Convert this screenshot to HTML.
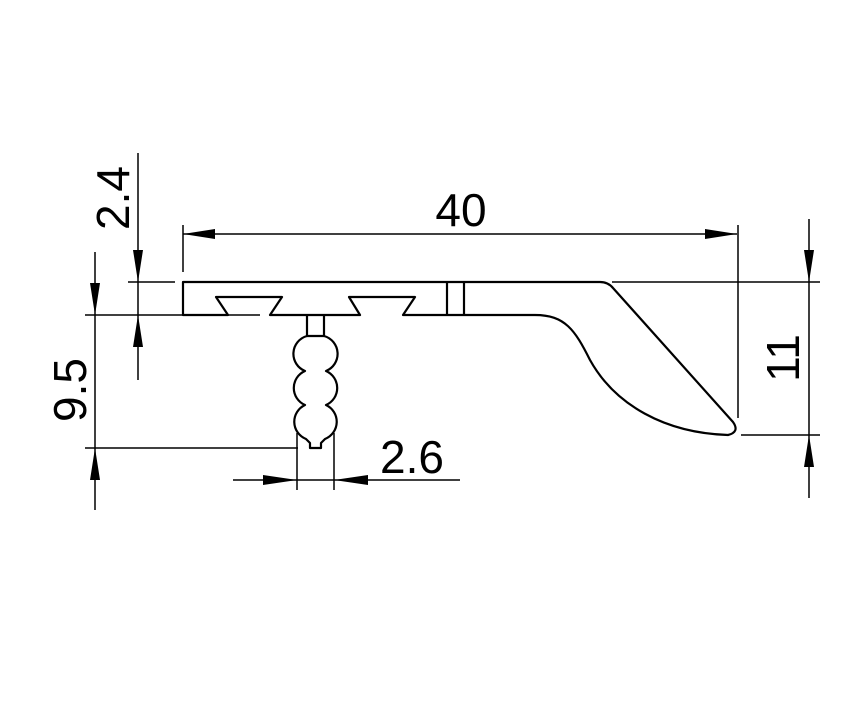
<!DOCTYPE html>
<html><head><meta charset="utf-8"><style>
html,body{margin:0;padding:0;background:#fff;}
svg{display:block;}
text{font-family:"Liberation Sans",sans-serif;font-size:46px;fill:#000;}
</style></head><body>
<svg width="862" height="710" viewBox="0 0 862 710" xmlns="http://www.w3.org/2000/svg">
<g fill="none" stroke="#000" stroke-width="2.2" stroke-linejoin="round">
<path d="M183 315 L183 282 L600 282 Q608 282 613 288 L733 422 Q740 432 728 435 C665 433 615 405 590 360 C575 330 565 315 535 315 L403 315 L415 297 L349 297 L360 315 L270 315 L282 297 L216 297 L228 315 Z"/>
<line x1="447" y1="282" x2="447" y2="315"/>
<line x1="464" y1="282" x2="464" y2="315"/>
<path d="M307 315 L307 336 L324 336 L324 315"/>
<path d="M307 336 A18.5 18.5 0 0 0 305 371 A18.5 18.5 0 0 0 305 405 A18.5 18.5 0 0 0 306 439 L310 443 L310 448 L321 448 L321 443 L325 439 A18.5 18.5 0 0 0 326 405 A18.5 18.5 0 0 0 326 371 A18.5 18.5 0 0 0 324 336"/>
</g>
<g stroke="#000" stroke-width="1.5" fill="none">
<line x1="183" y1="234" x2="737" y2="234"/>
<line x1="183" y1="225" x2="183" y2="272"/>
<line x1="738" y1="225" x2="738" y2="418"/>
<line x1="809" y1="219" x2="809" y2="498"/>
<line x1="612" y1="282" x2="820" y2="282"/>
<line x1="741" y1="435" x2="820" y2="435"/>
<line x1="138" y1="153" x2="138" y2="380"/>
<line x1="128" y1="282" x2="175" y2="282"/>
<line x1="95" y1="252" x2="95" y2="510"/>
<line x1="85" y1="315" x2="260" y2="315"/>
<line x1="85" y1="448" x2="298" y2="448"/>
<line x1="233" y1="480" x2="460" y2="480"/>
<line x1="297" y1="433" x2="297" y2="490"/>
<line x1="334" y1="433" x2="334" y2="490"/>
</g>
<g fill="#000">
<polygon points="183,234 215,229 215,239"/>
<polygon points="737,234 705,229 705,239"/>
<polygon points="809,282 804,250 814,250"/>
<polygon points="809,435 804,467 814,467"/>
<polygon points="138,282 133,250 143,250"/>
<polygon points="138,315 133,347 143,347"/>
<polygon points="95,315 90,283 100,283"/>
<polygon points="95,448 90,480 100,480"/>
<polygon points="297,480 263,475 263,485"/>
<polygon points="334,480 368,475 368,485"/>
</g>
<text x="461" y="226" text-anchor="middle">40</text>
<text x="412" y="473" text-anchor="middle">2.6</text>
<text transform="translate(129,198) rotate(-90)" text-anchor="middle">2.4</text>
<text transform="translate(86,390) rotate(-90)" text-anchor="middle">9.5</text>
<text transform="translate(799,358) rotate(-90)" text-anchor="middle">11</text>
</svg>
</body></html>
